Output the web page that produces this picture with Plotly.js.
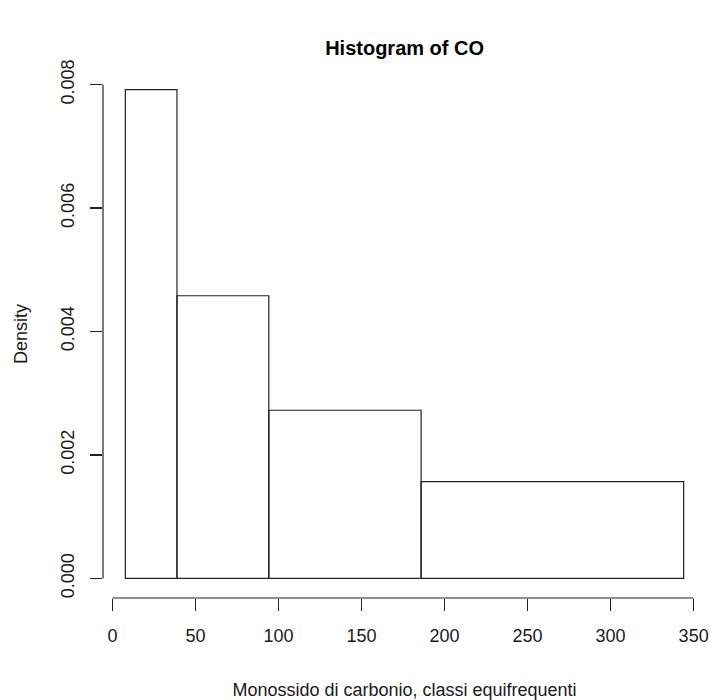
<!DOCTYPE html>
<html>
<head>
<meta charset="utf-8">
<script src="https://cdn.plot.ly/plotly-3.0.1.min.js"></script>
<style>html,body{margin:0;padding:0;background:#fff;}#chart{width:714px;height:700px;}</style>
</head>
<body>
<div id="chart"></div>
<script>
// Class breaks (equal-frequency classes) and densities
const breaks = [7.8, 38.9, 94.2, 185.9, 344.0];
const density = [0.00792, 0.00458, 0.002725, 0.00157];
const xTicks = [0, 50, 100, 150, 200, 250, 300, 350];
const yTicks = [0, 0.002, 0.004, 0.006, 0.008];
const yTickLabels = ["0.000", "0.002", "0.004", "0.006", "0.008"];

const mids = density.map((_, i) => (breaks[i] + breaks[i + 1]) / 2);
const widths = density.map((_, i) => breaks[i + 1] - breaks[i]);

// R-style 4% axis extension
const xMin = breaks[0], xMax = breaks[breaks.length - 1];
const xPad = (xMax - xMin) * 0.04;
const yMax = Math.max(...density);
const yPad = yMax * 0.04;

const lineCol = '#222';
const textCol = '#1a1a1a';
const font = 'Liberation Sans, Arial, sans-serif';

const trace = {
  type: 'bar',
  x: mids,
  y: density,
  width: widths,
  base: 0,
  marker: {color: 'rgba(255,255,255,0)', line: {color: lineCol, width: 1.2}},
  hoverinfo: 'skip'
};

const layout = {
  width: 714, height: 700,
  margin: {l: 103, r: 8, t: 70, b: 102},
  paper_bgcolor: '#fff', plot_bgcolor: '#fff',
  showlegend: false,
  font: {family: font, color: textCol, size: 18},
  title: {
    text: '<b>Histogram of CO</b>',
    font: {family: font, size: 20, color: '#000'},
    x: 0.5667, xanchor: 'center', y: 0.931, yanchor: 'middle'
  },
  xaxis: {
    range: [xMin - xPad, xMax + xPad],
    showgrid: false, zeroline: false, showline: false,
    tickmode: 'array', tickvals: xTicks, ticktext: xTicks.map(String),
    ticks: 'outside', ticklen: 12, tickwidth: 1.2, tickcolor: lineCol,
    tickfont: {family: font, size: 18, color: textCol},
    ticklabelstandoff: 9,
    title: {text: 'Monossido di carbonio, classi equifrequenti', font: {family: font, size: 18, color: textCol}, standoff: 38}
  },
  yaxis: {
    range: [-yPad, yMax + yPad],
    showgrid: false, zeroline: false, showline: false,
    tickmode: 'array', tickvals: yTicks, ticktext: yTickLabels,
    ticks: 'outside', ticklen: 12, tickwidth: 1.2, tickcolor: lineCol,
    tickangle: -90,
    tickfont: {family: font, size: 18, color: textCol},
    ticklabelstandoff: 9,
    title: {text: 'Density', font: {family: font, size: 18, color: textCol}, standoff: 25}
  },
  shapes: [
    {type: 'line', xref: 'x', yref: 'paper', x0: xTicks[0], x1: xTicks[xTicks.length - 1], y0: 0, y1: 0,
     line: {color: lineCol, width: 1.2}},
    {type: 'line', xref: 'paper', yref: 'y', x0: 0, x1: 0, y0: yTicks[0], y1: yTicks[yTicks.length - 1],
     line: {color: lineCol, width: 1.2}}
  ]
};

Plotly.newPlot('chart', [trace], layout, {displayModeBar: false, staticPlot: true});
</script>
</body>
</html>
